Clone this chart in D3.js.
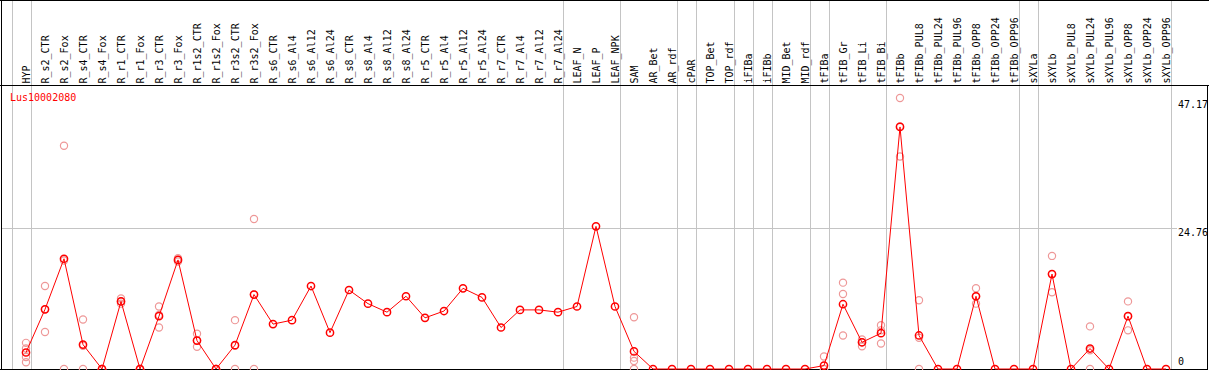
<!DOCTYPE html>
<html>
<head>
<meta charset="utf-8">
<script src="https://cdn.jsdelivr.net/npm/d3@7"></script>
<style>
  html, body { margin: 0; padding: 0; background: #ffffff; }
  svg { display: block; }
  text { font-family: "DejaVu Sans Mono", monospace; }
</style>
</head>
<body>
<div class="main"></div>
<script>
// gene shown in the plot
const geneId = "Lus10002080";

// sample names (one column each)
const samples = ["HYP",
  "R_s2_CTR", "R_s2_Fox", "R_s4_CTR", "R_s4_Fox", "R_r1_CTR", "R_r1_Fox",
  "R_r3_CTR", "R_r3_Fox", "R_r1s2_CTR", "R_r1s2_Fox", "R_r3s2_CTR", "R_r3s2_Fox",
  "R_s6_CTR", "R_s6_Al4", "R_s6_Al12", "R_s6_Al24",
  "R_s8_CTR", "R_s8_Al4", "R_s8_Al12", "R_s8_Al24",
  "R_r5_CTR", "R_r5_Al4", "R_r5_Al12", "R_r5_Al24",
  "R_r7_CTR", "R_r7_Al4", "R_r7_Al12", "R_r7_Al24",
  "LEAF_N", "LEAF_P", "LEAF_NPK",
  "SAM", "AR_Bet", "AR_rdf", "cPAR", "TOP_Bet", "TOP_rdf", "iFIBa", "iFIBb",
  "MID_Bet", "MID_rdf", "tFIBa", "tFIB_Gr", "tFIB_Li", "tFIB_Bi",
  "tFIBb", "tFIBb_PUL8", "tFIBb_PUL24", "tFIBb_PUL96", "tFIBb_OPP8", "tFIBb_OPP24", "tFIBb_OPP96",
  "sXYLa", "sXYLb", "sXYLb_PUL8", "sXYLb_PUL24", "sXYLb_PUL96", "sXYLb_OPP8", "sXYLb_OPP24", "sXYLb_OPP96"];

// mean expression per sample
const means = [2.9,
  10.5, 19.4, 4.3, 0, 11.9, 0, 9.3, 19.2, 5.0, 0, 4.2, 13.1,
  7.9, 8.6, 14.6, 6.4, 13.9, 11.5, 10.0, 12.8, 9.0, 10.2, 14.2, 12.6,
  7.3, 10.4, 10.4, 10.0,
  11.0, 25.1, 11.0,
  3.1, 0, 0, 0, 0, 0, 0, 0, 0, 0,
  0.6, 11.4, 4.7, 6.3,
  42.6, 5.9, 0, 0, 12.8, 0, 0,
  0, 16.7, 0, 3.6, 0, 9.3, 0, 0];

// replicate values per sample (faint circles)
const replicates = [[4.6, 3.6, 2.1, 1.2],
  [14.6, 6.5, 10.5], [39.3, 19.1, 0], [8.7, 4.1, 0], [0, 0, 0], [12.4, 11.9, 11.5], [0, 0, 0],
  [11.0, 9.5, 7.3], [19.5, 19.2, 18.9], [6.2, 5.0, 3.9], [0, 0, 0], [8.6, 4.1, 0], [26.4, 13.1, 0],
  [], [], [], [], [], [], [], [], [], [], [], [],
  [], [], [], [],
  [], [], [],
  [9.1, 2.0, 1.4, 0], [], [], [], [], [], [], [], [], [],
  [2.2, 0, 0], [15.2, 13.2, 5.9], [5.2, 4.0, 4.7], [7.7, 6.8, 4.5],
  [47.7, 42.7, 37.4], [12.1, 5.5, 0], [], [], [14.2, 11.5, 12.8], [], [],
  [], [19.9, 16.7, 13.5], [], [7.5, 3.3, 0], [], [11.9, 9.3, 6.8], [], []];

// right hand axis labels
const yTicks = [47.17, 24.76, 0];

// sample groups are separated after these column indices (-1 = before first)
const groupBreaks = [-1, 0, 28, 31, 34, 35, 37, 38, 39, 41, 42, 45, 52, 53, 60];

let width = 1209,
    height = 370;
let headerH = 85.5;

let svg = d3.select("div.main").append("svg")
  .attr("width", width)
  .attr("height", height);

let x = d3.scalePoint()
  .domain(d3.range(samples.length))
  .range([26, 1166]);

let y = d3.scaleLinear()
  .domain([0, 24.76])
  .range([369, 228.3]);

let step = x.step();
function breakX(i) { return Math.round(26 + i * step + 4.5) + 0.5; }

// grid: vertical separators (full height)
svg.append("g").selectAll("line")
  .data(groupBreaks)
  .enter().append("line")
    .attr("x1", breakX).attr("x2", breakX)
    .attr("y1", 0).attr("y2", height)
    .attr("stroke", "#c4c4c4")
    .attr("stroke-width", 1);

// horizontal grid at the middle tick
svg.append("line")
  .attr("x1", 1).attr("x2", 1177)
  .attr("y1", Math.round(y(24.76)) + 0.5).attr("y2", Math.round(y(24.76)) + 0.5)
  .attr("stroke", "#c4c4c4");

// frame
svg.append("line").attr("x1", 0).attr("x2", width).attr("y1", 0.5).attr("y2", 0.5).attr("stroke", "#000");
svg.append("line").attr("x1", 0).attr("x2", width).attr("y1", headerH).attr("y2", headerH).attr("stroke", "#000");
svg.append("line").attr("x1", 1.5).attr("x2", 1.5).attr("y1", 0).attr("y2", height).attr("stroke", "#000");
svg.append("line").attr("x1", 1207.5).attr("x2", 1207.5).attr("y1", headerH).attr("y2", height).attr("stroke", "#000");
svg.append("line").attr("x1", 0).attr("x2", 1208).attr("y1", 369.5).attr("y2", 369.5).attr("stroke", "#000");

// rotated sample labels
svg.append("g").selectAll("text")
  .data(samples)
  .enter().append("text")
    .attr("transform", function(d, i) { return "translate(" + (x(i) + 3.5) + "," + 83.5 + ") rotate(-90)"; })
    .attr("font-size", "10px")
    .attr("fill", "#000")
    .text(function(d) { return d; });

// gene id
svg.append("text")
  .attr("x", 10)
  .attr("y", 101)
  .attr("font-size", "10px")
  .attr("fill", "#ff0000")
  .text(geneId);

// y labels on the right
svg.append("g").selectAll("text")
  .data(yTicks)
  .enter().append("text")
    .attr("x", 1178)
    .attr("y", function(d) { return Math.min(y(d) + 7.5, 365); })
    .attr("font-size", "10px")
    .attr("fill", "#000")
    .text(function(d) { return d; });

// replicate circles
let repPts = [];
replicates.forEach(function(r, i) {
  r.forEach(function(v) { repPts.push({i: i, v: v}); });
});
svg.append("g").selectAll("circle")
  .data(repPts)
  .enter().append("circle")
    .attr("cx", function(d) { return x(d.i); })
    .attr("cy", function(d) { return y(d.v); })
    .attr("r", 3.6)
    .attr("fill", "none")
    .attr("stroke", "#ee9898")
    .attr("stroke-width", 1.2);

// mean line
let line = d3.line()
  .x(function(d, i) { return x(i); })
  .y(function(d) { return y(d); });

svg.append("path")
  .datum(means)
  .attr("d", line)
  .attr("fill", "none")
  .attr("stroke", "#ff0000")
  .attr("stroke-width", 1);

// mean markers
svg.append("g").selectAll("circle")
  .data(means)
  .enter().append("circle")
    .attr("cx", function(d, i) { return x(i); })
    .attr("cy", function(d) { return y(d); })
    .attr("r", 3.6)
    .attr("fill", "none")
    .attr("stroke", "#ff0000")
    .attr("stroke-width", 1.5);
</script>
</body>
</html>
